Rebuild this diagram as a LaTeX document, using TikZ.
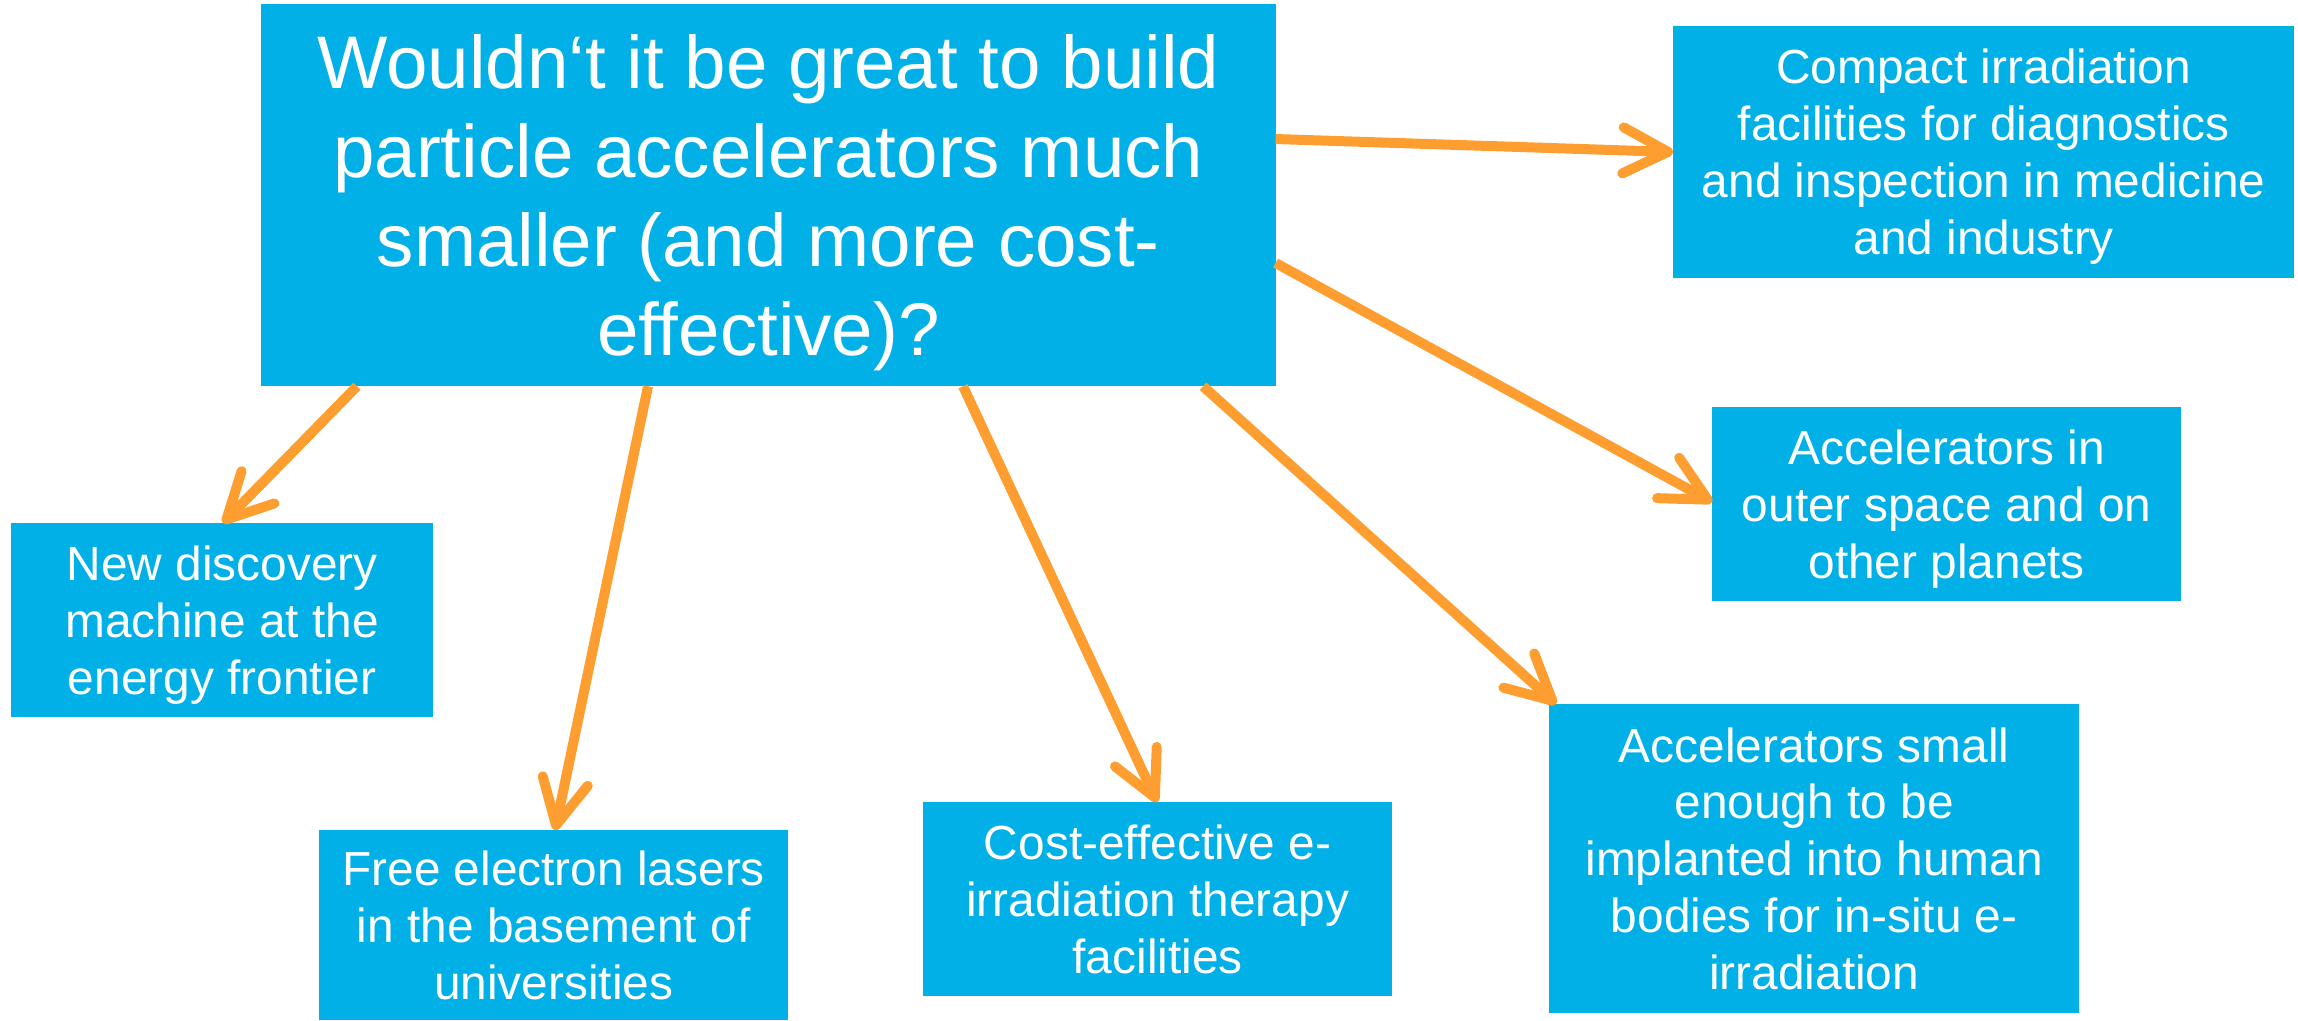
\documentclass[tikz,border=0pt]{standalone}
\usepackage{fontspec}
\setmainfont{Liberation Sans}
\usetikzlibrary{arrows.meta,calc}

\definecolor{boxblue}{HTML}{00B0E6}
\definecolor{arroworange}{HTML}{FF9E30}

\tikzset{
  infobox/.style={fill=boxblue, text=white, inner sep=0pt, outer sep=0pt,
    anchor=north west, align=center, text depth=0pt,
    font=\fontsize{13.6}{16.2}\selectfont},
  bigbox/.style={infobox, font=\fontsize{21.2}{25.3}\selectfont},
  flow/.style={draw=arroworange, line width=0.1cm,
    -{Straight Barb[length=0.45cm, width=0.46cm, round]}}
}

\begin{document}
\begin{tikzpicture}[x=0.01cm, y=-0.01cm]
  \useasboundingbox (0,0) rectangle (2298,1020);

  % central question
  \node[bigbox, minimum width=10.14cm, minimum height=3.82cm] (main) at (261,4)
    {Wouldn‘t it be great to build\\particle accelerators much\\smaller (and more cost-\\effective)?};

  % applications
  \node[infobox, minimum width=6.21cm, minimum height=2.52cm] (compact) at (1673,26)
    {Compact irradiation\\facilities for diagnostics\\and inspection in medicine\\and industry};
  \node[infobox, minimum width=4.69cm, minimum height=1.94cm] (space) at (1712,407)
    {Accelerators in\\outer space and on\\other planets};
  \node[infobox, minimum width=5.30cm, minimum height=3.09cm] (implant) at (1549,704)
    {Accelerators small\\enough to be\\implanted into human\\bodies for in-situ e-\\irradiation};
  \node[infobox, minimum width=4.69cm, minimum height=1.94cm] (therapy) at (923,802)
    {Cost-effective e-\\irradiation therapy\\facilities};
  \node[infobox, minimum width=4.69cm, minimum height=1.90cm] (fel) at (319,830)
    {Free electron lasers\\in the basement of\\universities};
  \node[infobox, minimum width=4.22cm, minimum height=1.94cm] (frontier) at (11,523)
    {New discovery\\machine at the\\energy frontier};

  % connectors from the question to each application
  \draw[flow] ($(main.north east)+(0,135)$) -- ($(compact.north west)+(0,126)$);
  \draw[flow] ($(main.north east)+(0,259)$) -- ($(space.north west)+(0,95)$);
  \draw[flow] ($(main.south west)+(942,0)$) -- ($(implant.north west)+(7,0)$);
  \draw[flow] ($(main.south west)+(702,0)$) -- ($(therapy.north west)+(234,0)$);
  \draw[flow] ($(main.south west)+(387,0)$) -- ($(fel.north west)+(236,0)$);
  \draw[flow] ($(main.south west)+(96,0)$) -- ($(frontier.north west)+(212,0)$);
\end{tikzpicture}
\end{document}
